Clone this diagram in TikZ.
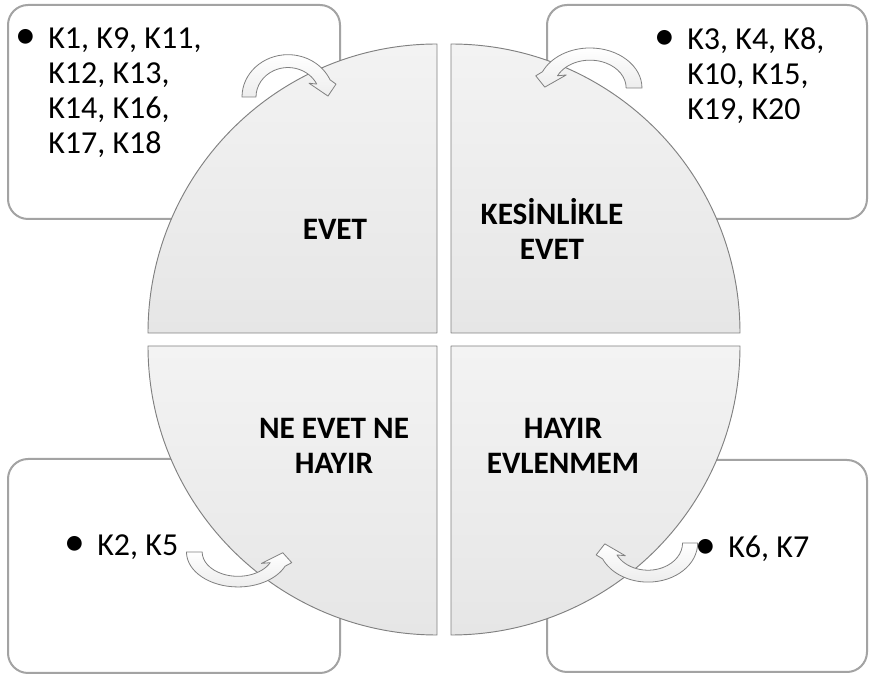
\documentclass[tikz,border=0pt]{standalone}
\usepackage{fontspec}
\setmainfont{Carlito}
\definecolor{boxgray}{HTML}{A3A3A3}
\definecolor{quadgray}{HTML}{808080}
\definecolor{quadtop}{HTML}{F3F3F3}
\definecolor{quadbottom}{HTML}{E6E6E6}
\definecolor{arrowfill}{HTML}{EDEDED}
\newcommand{\blt}{\llap{\raisebox{-0.5pt}{\scalebox{1.3}{•}}\hspace{9pt}}}
\begin{document}
\begin{tikzpicture}[x=0.75pt,y=0.75pt,line join=round,line cap=round,
	listbox/.style={draw=boxgray,line width=1.5pt,fill=white,rounded corners=15pt},
	quarter/.style={draw=quadgray,line width=0.7pt,top color=quadtop,bottom color=quadbottom},
	turnarrow/.style={draw=quadgray,line width=0.6pt,top color=white,bottom color=arrowfill},
	listtext/.style={anchor=north west,inner sep=0pt,align=left,font=\fontsize{24}{26.25}\selectfont},
	quadlabel/.style={inner sep=0pt,align=center,font=\fontsize{23.4}{26.25}\selectfont\bfseries},
	pics/turn/.style={code={
		\draw[turnarrow] (-46,0) arc[start angle=180,end angle=24,radius=46] -- (48,14) -- (40,1)
		-- (21,15) -- (26:32) arc[start angle=26,end angle=180,radius=32] -- cycle;}}]
	\useasboundingbox (0,0) rectangle (869,675);
	% boxes
	\draw[listbox] (8,456) rectangle (340,670);
	\draw[listbox] (547,456) rectangle (867,670);
	\draw[listbox] (8,2) rectangle (340,216);
	\draw[listbox] (547,3) rectangle (867,215);
	% quarters of the circle
	\draw[quarter] (437,342) -- ++(-289,0) arc[start angle=180,end angle=90,radius=289] -- cycle;
	\draw[quarter] (451,342) -- ++(0,289) arc[start angle=90,end angle=0,radius=289] -- cycle;
	\draw[quarter] (437,329) -- ++(-289,0) arc[start angle=180,end angle=270,radius=289] -- cycle;
	\draw[quarter] (451,329) -- ++(289,0) arc[start angle=0,end angle=-90,radius=289] -- cycle;
	% arrows
	\pic[yscale=0.92] at (288,578) {turn};
	\pic[xscale=-1.13,yscale=0.87] at (590,587) {turn};
	\pic[xscale=1.12,yscale=-0.76] at (238,123) {turn};
	\pic[xscale=-1.08,yscale=-0.85] at (648,132) {turn};
	% texts
	\node[quadlabel] (evet) at (335,446) {EVET};
	\node[quadlabel] (kesin) at (552,446) {KESİNLİKLE\\EVET};
	\node[quadlabel] (neevet) at (334,229) {NE EVET NE\\HAYIR};
	\node[quadlabel] (hayir) at (563,229) {HAYIR\\EVLENMEM};
	\node[listtext] (listevet) at (48,648) {\blt K1, K9, K11,\\K12, K13,\\K14, K16,\\K17, K18};
	\node[listtext] (listkesin) at (687,648) {\blt K3, K4, K8,\\K10, K15,\\K19, K20};
	\node[listtext] (listne) at (97,141) {\blt K2, K5};
	\node[listtext] (listhayir) at (728,139) {\blt K6, K7};
\end{tikzpicture}
\end{document}
